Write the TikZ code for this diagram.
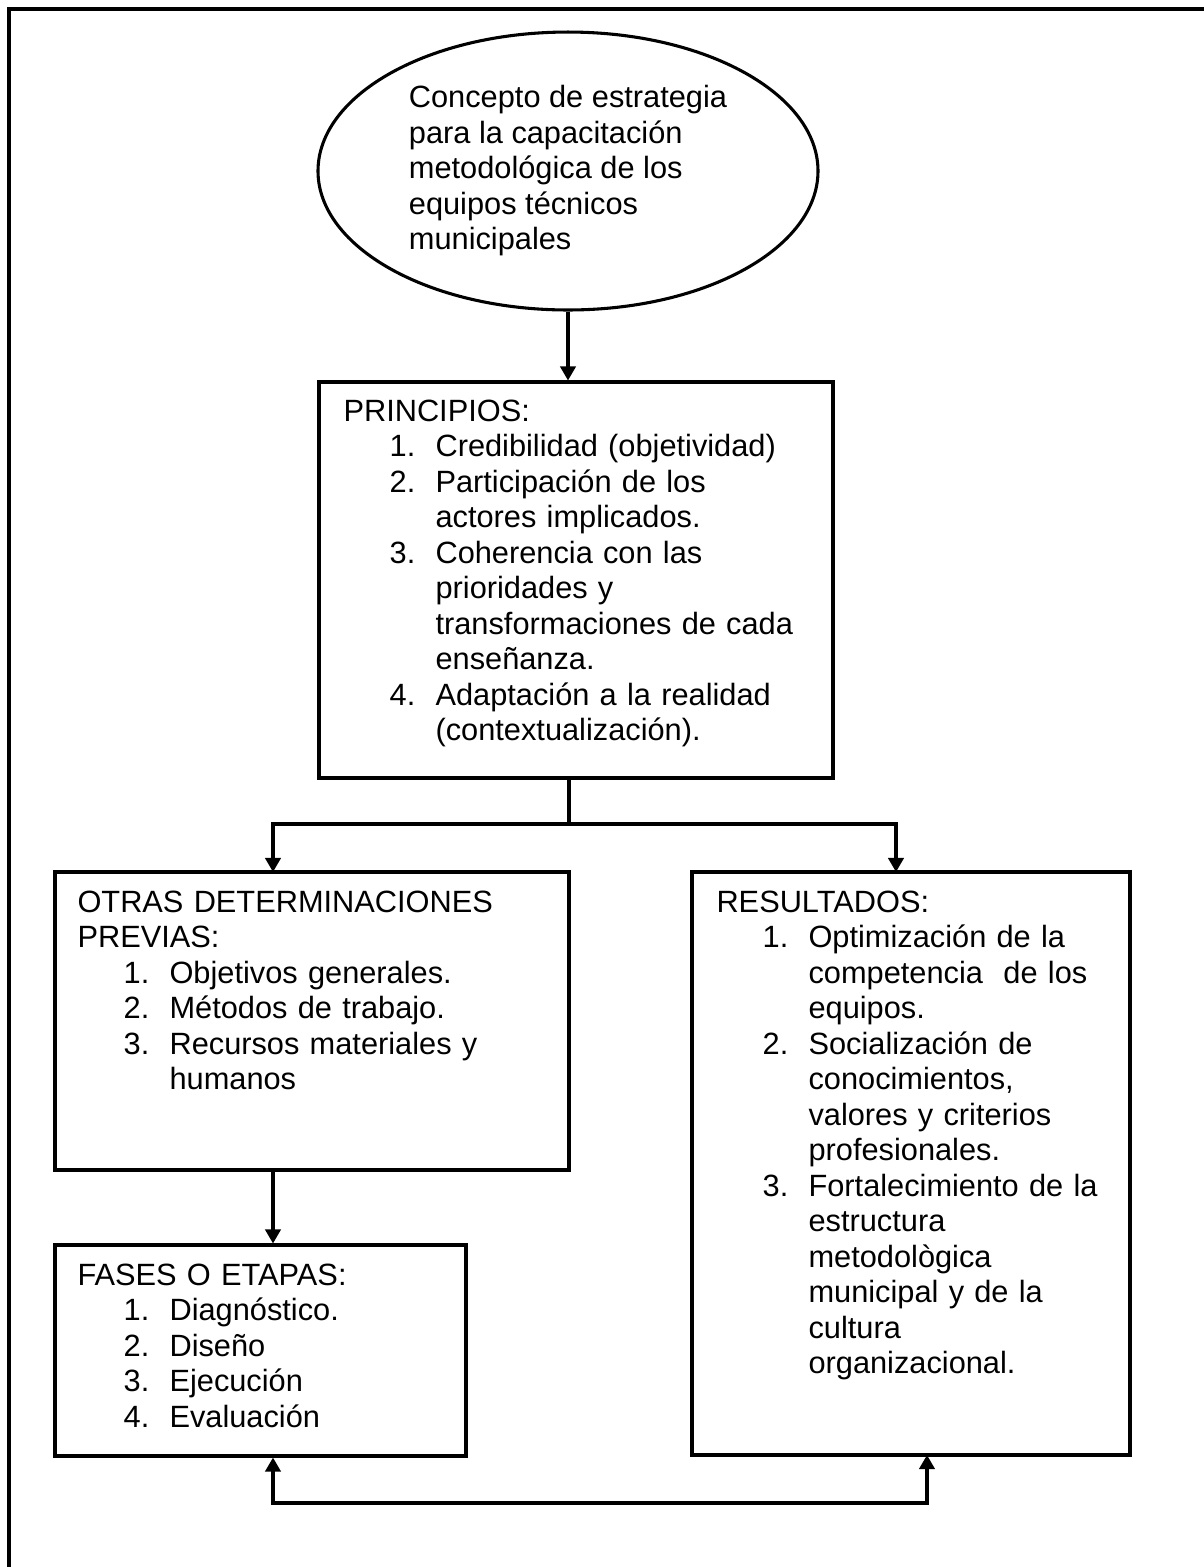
\documentclass[tikz,border=0pt]{standalone}
\usepackage{fontspec}
\setmainfont{Liberation Sans}
\usetikzlibrary{positioning,fit,arrows.meta,shapes.geometric}
\tikzset{
  frame/.style={draw=black,line width=1.3pt},
  box/.style={draw=black,line width=1.2pt,rectangle,inner sep=0pt},
  concept/.style={draw=black,line width=1.2pt,ellipse,inner sep=0pt,minimum width=195pt,
    minimum height=108.4pt,align=left,font=\fontsize{12}{13.85}\selectfont},
  txt/.style={anchor=base west,inner sep=0pt,text width=190pt,align=left,
    font=\fontsize{12}{13.85}\selectfont},
  conn/.style={draw=black,line width=1.2pt},
  arr/.style={conn,-{Triangle[length=5.5pt,width=6pt]}},
  arrboth/.style={conn,{Triangle[length=5.5pt,width=6pt]}-{Triangle[length=5.5pt,width=6pt]}},
}
\newcommand{\itm}[2]{\par\hangindent=35.9pt\hangafter=0\noindent\llap{\makebox[17.9pt][l]{#1.}}#2}

\begin{document}
\begin{tikzpicture}[x=0.39pt,y=-0.39pt]
\useasboundingbox (0,0) rectangle (1203,1567);
\draw[frame] (9,9) rectangle (1230,1600);

% concepto
\node[concept] (concepto) at (568,171) {Concepto de estrategia\\para la capacitación\\metodológica de los\\equipos técnicos\\municipales};

% cajas
\node[box,fit={(319,382) (833,778)}] (principios) {};
\node[box,fit={(55,872) (569,1170)}] (otras) {};
\node[box,fit={(692,872) (1130,1455)}] (resultados) {};
\node[box,fit={(55,1245) (466,1456)}] (fases) {};

% textos
\node[txt] (principiostxt) at (343,421) {PRINCIPIOS:
  \itm{1}{Credibilidad (objetividad)}
  \itm{2}{Participación de los\newline actores implicados.}
  \itm{3}{Coherencia con las\newline prioridades y\newline transformaciones de cada\newline enseñanza.}
  \itm{4}{Adaptación a la realidad\newline (contextualización).}\par};
\node[txt] (otrastxt) at (77,912) {OTRAS DETERMINACIONES\newline PREVIAS:
  \itm{1}{Objetivos generales.}
  \itm{2}{Métodos de trabajo.}
  \itm{3}{Recursos materiales y\newline humanos}\par};
\node[txt] (resultadostxt) at (716,912) {RESULTADOS:
  \itm{1}{Optimización de la\newline competencia~ de los\newline equipos.}
  \itm{2}{Socialización de\newline conocimientos,\newline valores y criterios\newline profesionales.}
  \itm{3}{Fortalecimiento de la\newline estructura\newline metodològica\newline municipal y de la\newline cultura\newline organizacional.}\par};
\node[txt] (fasestxt) at (77,1285) {FASES O ETAPAS:
  \itm{1}{Diagnóstico.}
  \itm{2}{Diseño}
  \itm{3}{Ejecución}
  \itm{4}{Evaluación}\par};

% conectores
\coordinate (split) at (569,824);
\coordinate (otrasin) at (273,872);
\coordinate (resin) at (896,872);
\coordinate (lazo) at (600,1503);
\coordinate (resout) at (927,1455);
\draw[arr] (concepto.south) -- (concepto.south |- principios.north);
\draw[conn] (principios.south -| split) -- (split);
\draw[arr] (split) -| (otrasin);
\draw[arr] (split) -| (resin);
\draw[arr] (otras.south -| otrasin) -- (fases.north -| otrasin);
\draw[arrboth] (fases.south -| otrasin) |- (lazo) -| (resout);
\end{tikzpicture}
\end{document}
